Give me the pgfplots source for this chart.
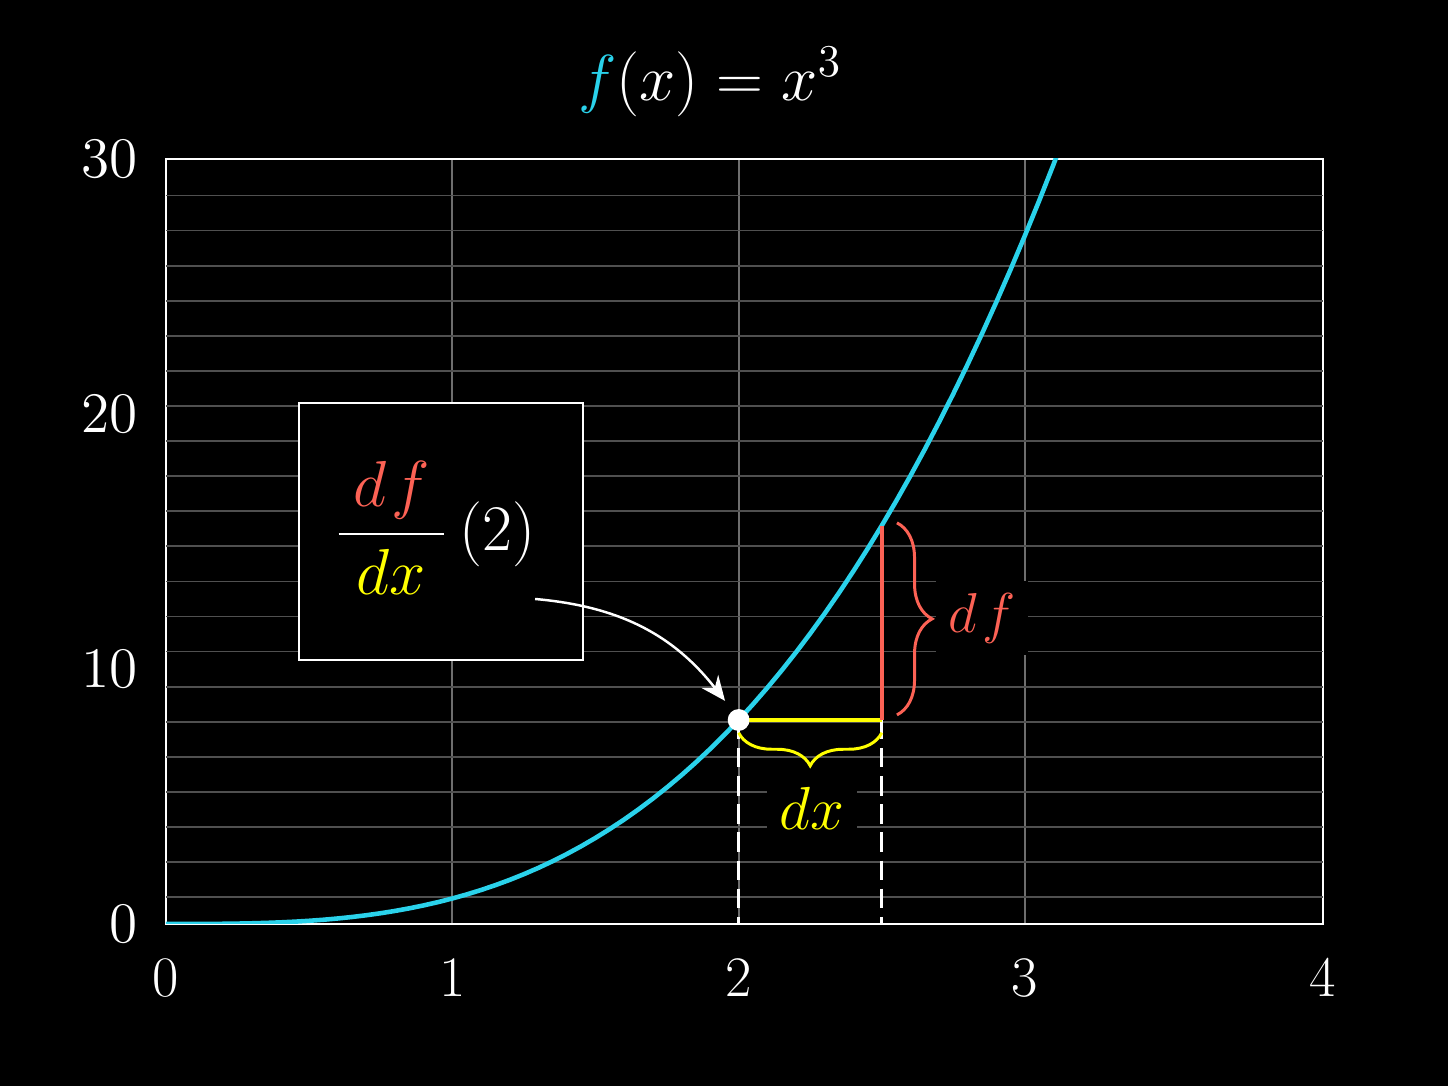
\RequirePackage{fix-cm}
\documentclass[border=0pt]{standalone}
\usepackage{pgfplots}
\pgfplotsset{compat=1.18}
\usetikzlibrary{decorations.pathreplacing,arrows.meta}

\definecolor{fblue}{RGB}{42,210,235}
\definecolor{dfred}{RGB}{252,98,85}
\definecolor{dxyellow}{RGB}{255,255,0}
\definecolor{hgrid}{RGB}{80,80,80}
\definecolor{vgrid}{RGB}{110,110,110}

\begin{document}
\begin{tikzpicture}
  % page background, 1448 x 1086 px at 0.1mm per px
  \fill[black] (0,0) rectangle (144.8mm,108.6mm);
  \begin{axis}[
    at={(16.6mm,16.2mm)}, anchor=south west,
    scale only axis, width=115.7mm, height=76.5mm,
    xmin=0, xmax=4.041, ymin=0, ymax=30,
    xtick={0,1,2,3,4.041}, xticklabels={0,1,2,3,4},
    ytick={0,10,20,30},
    axis line style={white, line width=0.7pt},
    major tick length=0pt,
    tick label style={white, font=\fontsize{16.3}{18}\selectfont},
    xticklabel style={yshift=-2.2mm},
    yticklabel style={xshift=-1.6mm},
    xmajorgrids,
    major grid style={vgrid, line width=0.5pt},
    extra y ticks={1.05,2.426,3.802,5.178,6.554,7.93,9.306,10.682,12.058,13.434,14.81,
                   16.186,17.562,18.938,20.314,21.69,23.066,24.442,25.818,27.194,28.57},
    extra y tick labels={},
    extra y tick style={grid=major, major grid style={hgrid, line width=0.5pt}},
  ]
    % dashed drops from the two x positions
    \draw[white, line width=0.8pt, dash pattern=on 5.5pt off 2.5pt] (2,8) -- (2,0);
    \draw[white, line width=0.8pt, dash pattern=on 5.5pt off 2.5pt] (2.5,8) -- (2.5,0);

    % box with the derivative
    \draw[white, line width=0.6pt, fill=black] (0.4645,10.35) rectangle (1.4565,20.43);
    \node[white, anchor=west, inner sep=0pt, font=\fontsize{18.5}{22}\selectfont] at (0.586,15.53)
      {$\displaystyle\frac{\mkern4mu\color{dfred}d\mkern1.5mu f\mkern4mu}{\color{dxyellow}dx}\mkern3mu(2)$};

    % f(x) = x^3
    \addplot[fblue, line width=1.3pt] coordinates {
      (0,0) (0.05,0.000125) (0.1,0.001) (0.15,0.003375) (0.2,0.008) (0.25,0.015625)
      (0.3,0.027) (0.35,0.042875) (0.4,0.064) (0.45,0.091125) (0.5,0.125)
      (0.55,0.166375) (0.6,0.216) (0.65,0.274625) (0.7,0.343) (0.75,0.421875)
      (0.8,0.512) (0.85,0.614125) (0.9,0.729) (0.95,0.857375) (1,1)
      (1.05,1.157625) (1.1,1.331) (1.15,1.520875) (1.2,1.728) (1.25,1.953125)
      (1.3,2.197) (1.35,2.460375) (1.4,2.744) (1.45,3.048625) (1.5,3.375)
      (1.55,3.723875) (1.6,4.096) (1.65,4.492125) (1.7,4.913) (1.75,5.359375)
      (1.8,5.832) (1.85,6.331625) (1.9,6.859) (1.95,7.414875) (2,8)
      (2.05,8.615125) (2.1,9.261) (2.15,9.938375) (2.2,10.648) (2.25,11.390625)
      (2.3,12.167) (2.35,12.977875) (2.4,13.824) (2.45,14.706125) (2.5,15.625)
      (2.55,16.581375) (2.6,17.576) (2.65,18.609625) (2.7,19.683) (2.75,20.796875)
      (2.8,21.952) (2.85,23.149125) (2.9,24.389) (2.95,25.672375) (3,27)
      (3.05,28.372625) (3.1,29.791) (3.15,31.255875) (3.2,32.768)
    };

    % dx and df segments
    \draw[dxyellow, line width=1.1pt] (2,8) -- (2.5,8);
    \draw[dfred, line width=1.1pt] (2.5,8) -- (2.5,15.625);

    % braces
    \draw[dfred, line width=0.85pt, decorate, decoration={brace, amplitude=10pt}]
      (2.553,15.73) -- (2.553,8.2);
    \draw[dxyellow, line width=0.85pt, decorate, decoration={brace, amplitude=9.4pt}]
      (2.5,7.5) -- (2,7.5);
    \node[fill=black, inner sep=3.5pt, text=dfred, font=\fontsize{16}{18}\selectfont]
      at (2.85,12.0) {$d\mkern1.5mu f$};
    \node[fill=black, inner sep=3.5pt, text=dxyellow, font=\fontsize{17.3}{18}\selectfont]
      at (2.256,4.55) {$dx$};

    % arrow from the box to the point
    \draw[white, line width=0.7pt, -{Stealth[length=7pt, width=6pt]}]
      (1.289,12.745) to[out=-5, in=128] (1.9525,8.75);

    \addplot[only marks, mark=*, mark size=2.9pt, white] coordinates {(2,8)};
  \end{axis}

  % title, placed in pixel units from the top left
  \begin{scope}[x=0.1mm, y=-0.1mm, shift={(0mm,108.6mm)}]
    \node[white, font=\fontsize{18.5}{22}\selectfont] at (710,82)
      {$\color{fblue}f\color{white}(x)=x^3$};
  \end{scope}
\end{tikzpicture}
\end{document}
